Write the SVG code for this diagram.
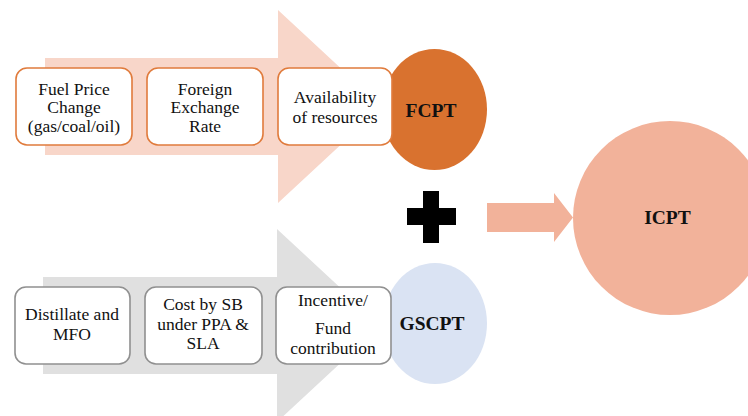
<svg xmlns="http://www.w3.org/2000/svg" width="748" height="416" viewBox="0 0 748 416">
<style>
.box{fill:#fff;stroke-width:1.6}
.ob{stroke:#E07B3C}
.gb{stroke:#909090}
.t{font-family:"Liberation Serif","Times New Roman",serif;font-size:17.5px;fill:#111;text-anchor:middle}
.b{font-family:"Liberation Serif","Times New Roman",serif;font-size:19.5px;font-weight:bold;fill:#111;text-anchor:middle}
</style>
<rect width="748" height="416" fill="#fff"/>
<g id="connectors">
<polygon id="arrow-top" points="45,58 278,58 278,10 382,106.5 278,203 278,155 45,155" fill="#F8D6C9"/>
<polygon id="arrow-bottom" points="43,277 277,277 277,229 381,325.5 277,422 277,374 43,374" fill="#E0E0E0"/>
<polygon id="arrow-icpt" points="487,203 554,203 554,193 573,217.5 554,242 554,232 487,232" fill="#F2B29A"/>
</g>
<g id="fcpt">
<ellipse cx="434.5" cy="109.5" rx="52.5" ry="60.5" fill="#D9722F"/>
<text class="b" x="431" y="116.5">FCPT</text>
</g>
<g id="gscpt">
<ellipse cx="435" cy="323.5" rx="52" ry="60.5" fill="#DAE3F3"/>
<text class="b" x="432" y="330">GSCPT</text>
</g>
<g id="icpt">
<circle cx="670" cy="218" r="97" fill="#F2B29A"/>
<text class="b" x="667.5" y="223.5">ICPT</text>
</g>
<g id="plus">
<rect x="423" y="191" width="16" height="52" fill="#000"/>
<rect x="407" y="208" width="49" height="17" fill="#000"/>
</g>
<g id="box-fuel">
<rect class="box ob" x="16" y="68" width="116" height="77" rx="11"/>
<text class="t" x="74" y="94.5">Fuel Price</text>
<text class="t" x="74" y="113">Change</text>
<text class="t" x="74" y="131.5">(gas/coal/oil)</text>
</g>
<g id="box-forex">
<rect class="box ob" x="147" y="68" width="116" height="77" rx="11"/>
<text class="t" x="205" y="94.5">Foreign</text>
<text class="t" x="205" y="113">Exchange</text>
<text class="t" x="205" y="131.5">Rate</text>
</g>
<g id="box-avail">
<rect class="box ob" x="278" y="68" width="114" height="77" rx="11"/>
<text class="t" x="335" y="103">Availability</text>
<text class="t" x="335" y="122.5">of resources</text>
</g>
<g id="box-distillate">
<rect class="box gb" x="15" y="287" width="115" height="77" rx="11"/>
<text class="t" x="72" y="320">Distillate and</text>
<text class="t" x="72" y="340">MFO</text>
</g>
<g id="box-cost">
<rect class="box gb" x="145" y="287" width="117" height="77" rx="11"/>
<text class="t" x="203" y="310">Cost by SB</text>
<text class="t" x="203" y="330">under PPA &amp;</text>
<text class="t" x="203" y="349">SLA</text>
</g>
<g id="box-incentive">
<rect class="box gb" x="276" y="287" width="115" height="77" rx="11"/>
<text class="t" x="333" y="306">Incentive/</text>
<text class="t" x="333" y="334">Fund</text>
<text class="t" x="333" y="353.5">contribution</text>
</g>
</svg>
